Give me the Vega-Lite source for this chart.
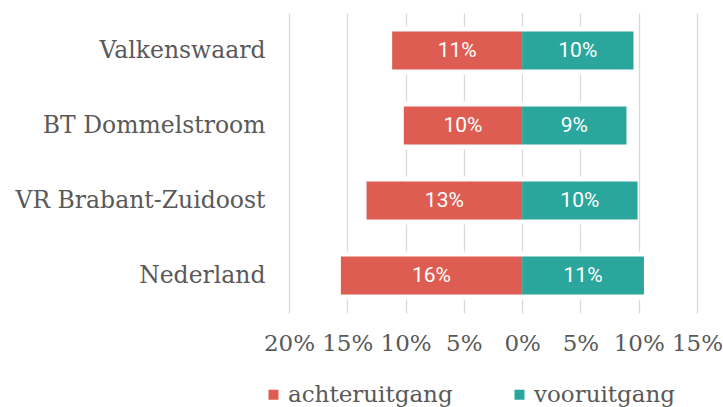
{
  "$schema": "https://vega.github.io/schema/vega-lite/v6.json",
  "width": 408,
  "height": 300,
  "autosize": {"type": "none"},
  "padding": {"left": 289, "top": 13, "right": 26, "bottom": 94},
  "background": "white",
  "config": {"view": {"stroke": null}},
  "data": {
    "values": [
      {"regio": "Valkenswaard", "richting": "achteruitgang", "value": -11.15, "label": "11%"},
      {"regio": "Valkenswaard", "richting": "vooruitgang", "value": 9.55, "label": "10%"},
      {"regio": "BT Dommelstroom", "richting": "achteruitgang", "value": -10.15, "label": "10%"},
      {"regio": "BT Dommelstroom", "richting": "vooruitgang", "value": 8.95, "label": "9%"},
      {"regio": "VR Brabant-Zuidoost", "richting": "achteruitgang", "value": -13.35, "label": "13%"},
      {"regio": "VR Brabant-Zuidoost", "richting": "vooruitgang", "value": 9.9, "label": "10%"},
      {"regio": "Nederland", "richting": "achteruitgang", "value": -15.55, "label": "16%"},
      {"regio": "Nederland", "richting": "vooruitgang", "value": 10.45, "label": "11%"}
    ]
  },
  "encoding": {
    "y": {
      "field": "regio",
      "type": "nominal",
      "sort": ["Valkenswaard", "BT Dommelstroom", "VR Brabant-Zuidoost", "Nederland"],
      "scale": {"paddingInner": 0.5, "paddingOuter": 0.25},
      "axis": {
        "title": null,
        "ticks": false,
        "domain": false,
        "labelFont": "DejaVu Serif",
        "labelFontSize": 23.5,
        "labelColor": "#595959",
        "labelPadding": 24,
        "labelLimit": 300
      }
    }
  },
  "layer": [
    {
      "mark": {"type": "bar", "fill": "white", "height": 48},
      "encoding": {
        "x": {
          "field": "value",
          "type": "quantitative",
          "scale": {"domain": [-20, 15], "nice": false, "zero": false},
          "axis": {
            "title": null,
            "values": [-20, -15, -10, -5, 0, 5, 10, 15],
            "labelExpr": "abs(datum.value) + '%'",
            "ticks": false,
            "domain": false,
            "grid": true,
            "gridColor": "#d9d9d9",
            "gridWidth": 1.3,
            "labelFont": "DejaVu Serif",
            "labelFontSize": 23,
            "labelColor": "#595959",
            "labelPadding": 19,
            "labelFlush": false
          }
        },
        "x2": {"datum": 0}
      }
    },
    {
      "mark": {"type": "bar", "height": 38},
      "encoding": {
        "x": {"field": "value", "type": "quantitative"},
        "x2": {"datum": 0},
        "color": {
          "field": "richting",
          "type": "nominal",
          "scale": {"domain": ["achteruitgang", "vooruitgang"], "range": ["#DE5D52", "#2BA69C"]},
          "legend": {
            "title": null,
            "orient": "none",
            "legendX": -27,
            "legendY": 370,
            "direction": "horizontal",
            "symbolType": "square",
            "symbolSize": 100,
            "symbolStrokeWidth": 0,
            "labelFont": "DejaVu Serif",
            "labelFontSize": 23,
            "labelColor": "#595959",
            "labelOffset": 3,
            "labelLimit": 400,
            "columnPadding": 55,
            "padding": 0
          }
        }
      }
    },
    {
      "mark": {"type": "rule", "color": "white", "strokeWidth": 3.3},
      "encoding": {"x": {"datum": 0}}
    },
    {
      "mark": {"type": "rule", "color": "#d9d9d9", "strokeWidth": 1.3},
      "encoding": {"x": {"datum": 0}}
    },
    {
      "transform": [{"calculate": "datum.value / 2", "as": "mid"}],
      "mark": {"type": "text", "color": "white", "font": "Roboto", "fontSize": 21, "align": "center", "baseline": "middle"},
      "encoding": {
        "x": {"field": "mid", "type": "quantitative"},
        "text": {"field": "label"}
      }
    }
  ]
}
